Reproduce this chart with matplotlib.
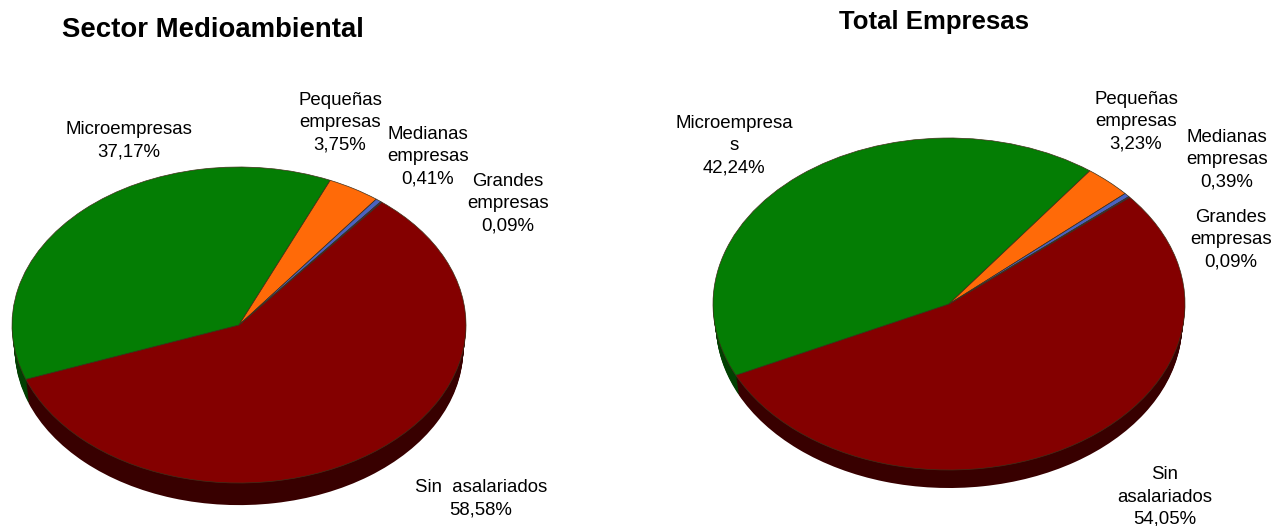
#!/usr/bin/env python3
"""
Two tilted pies of company size share: environment sector vs all companies.
The 3D look is faked by stacking darker pies below the top one.
"""
import matplotlib
matplotlib.use('Agg')
matplotlib.rcParams['font.family'] = ['Liberation Sans', 'DejaVu Sans']
import matplotlib.pyplot as plt

W, H = 1274, 526

sector_values = [58.58, 37.17, 3.75, 0.41, 0.09]
total_values = [54.05, 42.24, 3.23, 0.39, 0.09]

sector_labels = ['Sin  asalariados\n58,58%', 'Microempresas\n37,17%',
                 'Pequeñas\nempresas\n3,75%', 'Medianas\nempresas\n0,41%',
                 'Grandes\nempresas\n0,09%']
total_labels = ['Sin\nasalariados\n54,05%', 'Microempresa\ns\n42,24%',
                'Pequeñas\nempresas\n3,23%', 'Medianas\nempresas\n0,39%',
                'Grandes\nempresas\n0,09%']

top_colors = ['#840000', '#047D04', '#FF6A08', '#4A62C0', '#33337A']
side_colors = ['#380000', '#024002', '#803300', '#252F60', '#1A1A3D']


def draw_pie(fig, values, colors_top, colors_side, cx, cy, rx, ry, depth, start):
    # axes covers the ellipse in pixels, plus the depth below it
    ax = fig.add_axes([(cx - rx) / W, 1 - (cy + ry + depth) / H,
                       2 * rx / W, (2 * ry + depth) / H])
    steps = 14
    for i in range(steps, 0, -1):
        # lower layers get a bit narrower, so the side thins out at the edges
        ax.pie(values, colors=colors_side, startangle=start, counterclock=False,
               center=(0, -depth / ry * i / steps), radius=1 - 0.012 * i / steps,
               frame=True, wedgeprops={'linewidth': 0})
    ax.pie(values, colors=colors_top, startangle=start, counterclock=False,
           center=(0, 0), frame=True,
           wedgeprops={'linewidth': 0.5, 'edgecolor': '#40301A'})
    ax.set_aspect('auto')
    ax.set_xlim(-1, 1)
    ax.set_ylim(-1 - depth / ry, 1)
    ax.axis('off')


def label(fig, x, y, text, **kw):
    fig.text(x / W, 1 - y / H, text, ha='center', va='center',
             linespacing=1.4, color='black', **kw)


fig = plt.figure(figsize=(W / 100, H / 100), dpi=100, facecolor='white')

draw_pie(fig, sector_values, top_colors, side_colors, 239, 325, 227, 158, 24, 51)
draw_pie(fig, total_values, top_colors, side_colors, 949, 304, 236, 166, 20, 40)

label(fig, 213, 30, 'Sector Medioambiental', fontsize=19.8, fontweight='bold')
label(fig, 934, 22, 'Total Empresas', fontsize=18.5, fontweight='bold')

sector_pos = [(481, 499), (129, 141), (340, 123), (428, 157), (508, 204)]
total_pos = [(1165, 497), (734, 146), (1136, 122), (1227, 160), (1231, 240)]
for (x, y), text in zip(sector_pos, sector_labels):
    label(fig, x, y, text, fontsize=13.4)
for (x, y), text in zip(total_pos, total_labels):
    label(fig, x, y, text, fontsize=13.4)

fig.savefig('out.png', dpi=100)
